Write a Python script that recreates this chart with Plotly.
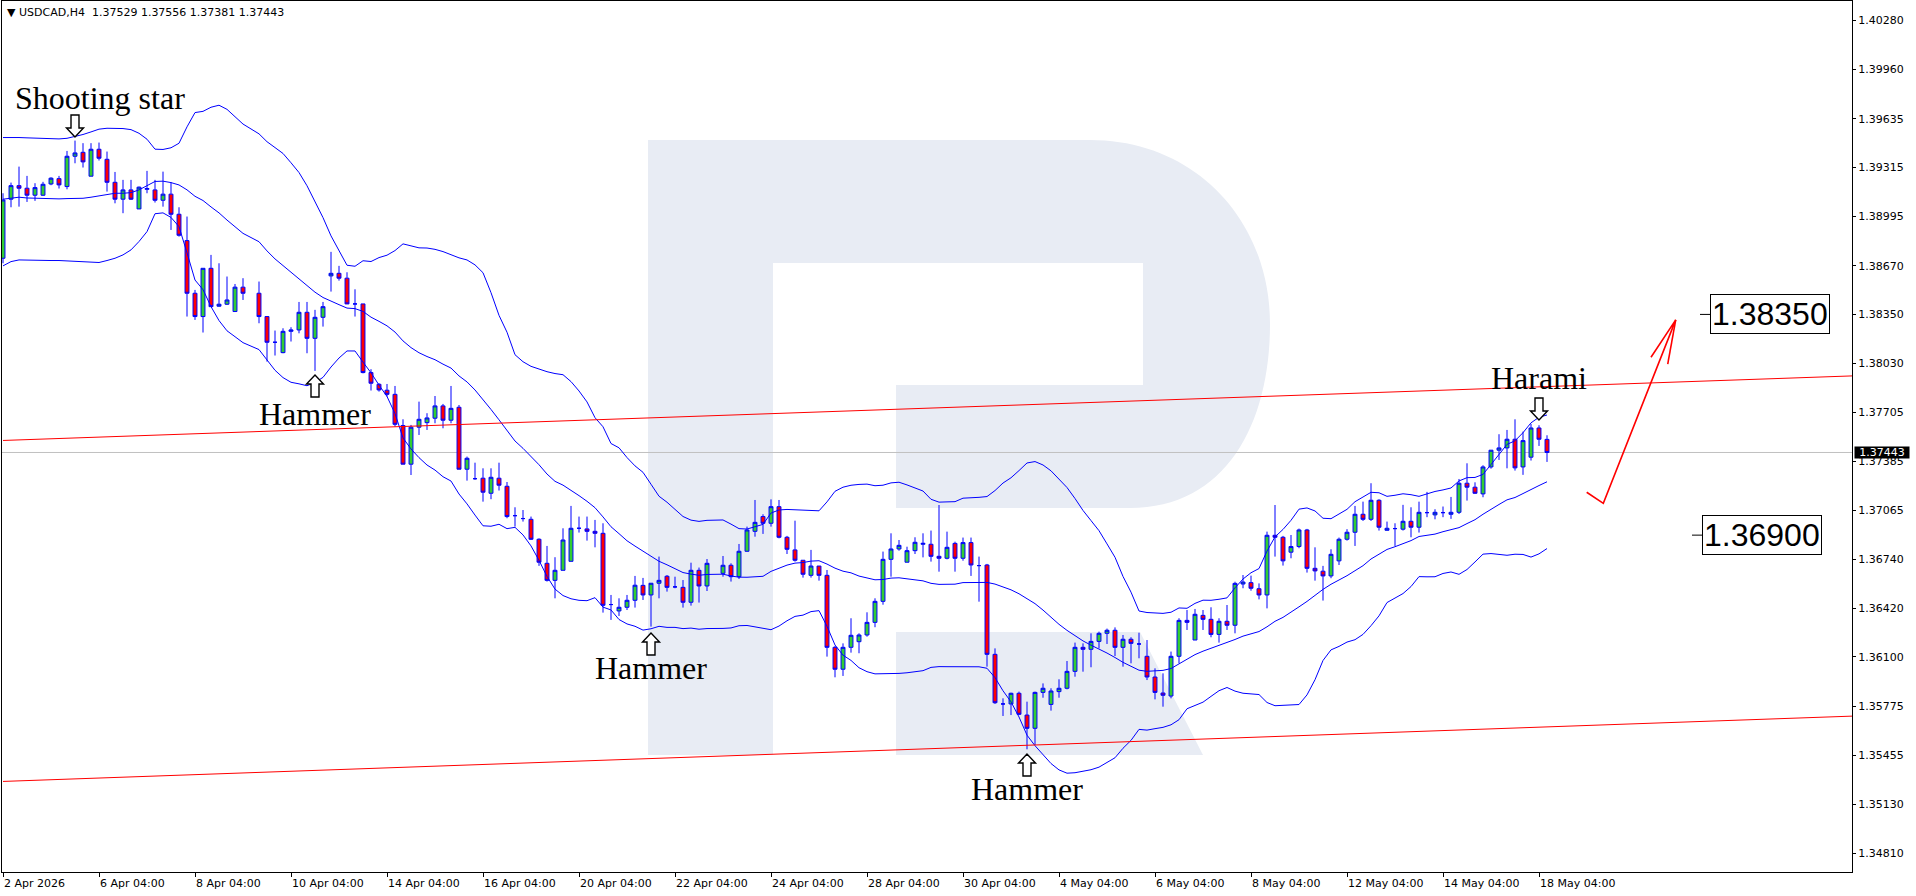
import plotly.graph_objects as go
import pandas as pd
import numpy as np

# ---------------- data ----------------
opens = [
 1.38719, 1.39107, 1.39196, 1.39179, 1.39133, 1.39133, 1.39207, 1.39242, 1.39190, 1.39389,
 1.39415, 1.39258, 1.39435, 1.39369, 1.39218, 1.39107, 1.39168, 1.39043, 1.39172, 1.39168,
 1.39100, 1.39140, 1.39008, 1.38835, 1.38489, 1.38336, 1.38653, 1.38404, 1.38417, 1.38369,
 1.38529, None,    1.38489, 1.38336, 1.38167, 1.38099, 1.38239, 1.38248, 1.38364, 1.38193,
 1.38331, 1.38603, 1.38620, 1.38588, 1.38419, 1.38419, 1.37968, 1.37891, 1.37852, 1.37825,
 1.37620, 1.37366, 1.37609, 1.37639, 1.37668, 1.37749, 1.37655, 1.37740, 1.37333, 1.37271,
 1.37274, 1.37175, 1.37274, 1.37221, 1.37028, 1.37009, 1.37004, 1.36873, 1.36715, 1.36603,
 1.36669, 1.36728, 1.36945, 1.36941, 1.36925, 1.36912, 1.36444, 1.36402, 1.36426, 1.36472,
 1.36570, 1.36507, 1.36584, 1.36630, 1.36560, 1.36557, 1.36459, 1.36669, 1.36566, None,
 1.36649, 1.36702, 1.36627, 1.36794, 1.36925, 1.37022, 1.36978, 1.37087, 1.36886, 1.36803,
 1.36735, 1.36636, 1.36697, 1.36636, 1.36163, 1.36019, 1.36163, 1.36200, 1.36244, 1.36327,
 1.36465, 1.36741, 1.36809, 1.36722, 1.36798, 1.36840, 1.36840, 1.36761, 1.36748, 1.36846,
 1.36748, 1.36851, 1.36700, 1.36704, 1.36117, 1.35791, 1.35791, 1.35861, 1.35718, 1.35631,
 1.35867, 1.35788, 1.35872, 1.35894, 1.36005, 1.36163, 1.36150, 1.36202, 1.36255, 1.36275,
 1.36163, 1.36216, 1.36185, 1.36104, 1.35968, 1.35863, 1.35843, 1.36104, 1.36340, 1.36211,
 1.36373, 1.36347, 1.36248, 1.36334, 1.36308, 1.36579, 1.36588, 1.36548, 1.36507, 1.36899,
 1.36886, 1.36788, 1.36825, 1.36934, 1.36682, 1.36663, 1.36632, 1.36731, 1.36873, 1.36919,
 1.37037, 1.37004, 1.37129, 1.36932, 1.36943, 1.36939, 1.36991, 1.36952, 1.37048, 1.37033,
 1.37048, 1.37037, 1.37050, 1.37241, 1.37215, 1.37171, 1.37348, 1.37458, 1.37473, 1.37530,
 1.37348, 1.37412, 1.37604, 1.37529,
]
highs = [
 1.39146, 1.39216, 1.39321, 1.39260, 1.39212, 1.39221, 1.39251, 1.39260, 1.39424, 1.39492,
 1.39475, 1.39475, 1.39479, 1.39420, 1.39286, 1.39234, 1.39234, 1.39190, 1.39293, 1.39234,
 1.39288, 1.39218, 1.39054, 1.38993, 1.38511, 1.38653, 1.38741, 1.38686, 1.38599, 1.38550,
 1.38588, None,    1.38566, 1.38336, 1.38244, 1.38259, 1.38266, 1.38432, 1.38432, 1.38380,
 1.38432, 1.38761, 1.38669, 1.38627, 1.38515, 1.38419, 1.37990, 1.37898, 1.37893, 1.37880,
 1.37661, 1.37624, 1.37777, 1.37701, 1.37814, 1.37762, 1.37880, 1.37755, 1.37416, 1.37376,
 1.37339, 1.37339, 1.37376, 1.37249, 1.37083, 1.37065, 1.37022, 1.36879, 1.36829, 1.36755,
 1.36945, 1.37092, 1.37022, 1.37022, 1.37000, 1.36978, 1.36507, 1.36485, 1.36507, 1.36632,
 1.36619, 1.36584, 1.36759, 1.36638, 1.36627, 1.36605, 1.36719, 1.36687, 1.36743, None,
 1.36763, 1.36715, 1.36842, 1.36956, 1.37131, 1.37037, 1.37135, 1.37131, 1.36895, 1.36995,
 1.36735, 1.36803, 1.36697, 1.36671, 1.36172, 1.36189, 1.36354, 1.36255, 1.36393, 1.36485,
 1.36792, 1.36912, 1.36868, 1.36824, 1.36886, 1.36912, 1.36930, 1.37098, 1.36923, 1.36857,
 1.36884, 1.36884, 1.36759, 1.36711, 1.36156, 1.35828, 1.35865, 1.35872, 1.35806, 1.35872,
 1.35926, 1.35894, 1.35953, 1.36073, 1.36194, 1.36189, 1.36255, 1.36266, 1.36286, 1.36294,
 1.36244, 1.36229, 1.36259, 1.36211, 1.36025, 1.35992, 1.36135, 1.36354, 1.36408, 1.36415,
 1.36408, 1.36426, 1.36354, 1.36441, 1.36594, 1.36638, 1.36634, 1.36583, 1.36923, 1.37098,
 1.36895, 1.36901, 1.36943, 1.36941, 1.36820, 1.36698, 1.36807, 1.36884, 1.36939, 1.37092,
 1.37120, 1.37241, 1.37136, 1.36989, 1.36978, 1.37099, 1.37083, 1.37120, 1.37184, 1.37070,
 1.37088, 1.37151, 1.37269, 1.37372, 1.37247, 1.37359, 1.37458, 1.37563, 1.37591, 1.37661,
 1.37580, 1.37631, 1.37622, 1.37556,
]
lows = [
 1.38686, 1.39054, 1.39058, 1.39089, 1.39096, 1.39129, 1.39199, 1.39177, 1.39172, 1.39343,
 1.39315, 1.39258, 1.39361, 1.39157, 1.39080, 1.39015, 1.39102, 1.39043, 1.39146, 1.39085,
 1.39058, 1.38905, 1.38861, 1.38336, 1.38314, 1.38231, 1.38401, 1.38401, 1.38412, 1.38369,
 1.38445, None,    1.38292, 1.38040, 1.38080, 1.38095, 1.38172, 1.38226, 1.38095, 1.37979,
 1.38270, 1.38500, 1.38572, 1.38419, 1.38336, 1.37963, 1.37850, 1.37843, 1.37810, 1.37613,
 1.37366, 1.37295, 1.37558, 1.37591, 1.37635, 1.37602, 1.37635, 1.37333, 1.37258, 1.37263,
 1.37120, 1.37136, 1.37193, 1.37011, 1.36956, 1.36989, 1.36868, 1.36698, 1.36595, 1.36485,
 1.36669, 1.36728, 1.36917, 1.36864, 1.36820, 1.36391, 1.36343, 1.36369, 1.36408, 1.36424,
 1.36474, 1.36299, 1.36485, 1.36529, 1.36551, 1.36424, 1.36437, 1.36457, 1.36533, None,
 1.36627, 1.36595, 1.36612, 1.36792, 1.36890, 1.36908, 1.36956, 1.36879, 1.36776, 1.36726,
 1.36621, 1.36621, 1.36601, 1.36102, 1.35966, 1.35975, 1.36128, 1.36124, 1.36233, 1.36295,
 1.36443, 1.36627, 1.36798, 1.36722, 1.36776, 1.36754, 1.36726, 1.36660, 1.36741, 1.36660,
 1.36732, 1.36632, 1.36463, 1.36036, 1.35791, 1.35712, 1.35718, 1.35718, 1.35493, 1.35521,
 1.35832, 1.35747, 1.35832, 1.35887, 1.35970, 1.36003, 1.36032, 1.36156, 1.36185, 1.36106,
 1.36036, 1.36058, 1.36091, 1.35948, 1.35821, 1.35773, 1.35828, 1.36058, 1.36277, 1.36211,
 1.36277, 1.36229, 1.36194, 1.36277, 1.36255, 1.36551, 1.36535, 1.36478, 1.36419, 1.36759,
 1.36700, 1.36748, 1.36814, 1.36654, 1.36601, 1.36470, 1.36617, 1.36704, 1.36864, 1.36829,
 1.36993, 1.36993, 1.36930, 1.36930, 1.36829, 1.36930, 1.36886, 1.36917, 1.37018, 1.37004,
 1.37018, 1.37007, 1.37039, 1.37127, 1.37171, 1.37149, 1.37337, 1.37394, 1.37339, 1.37324,
 1.37296, 1.37390, 1.37486, 1.37381,
]
closes = [
 1.39102, 1.39196, 1.39179, 1.39133, 1.39183, 1.39205, 1.39245, 1.39201, 1.39389, 1.39411,
 1.39352, 1.39435, 1.39376, 1.39218, 1.39107, 1.39168, 1.39107, 1.39186, 1.39177, 1.39100,
 1.39140, 1.39008, 1.38870, 1.38489, 1.38336, 1.38653, 1.38401, 1.38417, 1.38445, 1.38529,
 1.38489, None,    1.38336, 1.38167, 1.38167, 1.38239, 1.38248, 1.38364, 1.38193, 1.38331,
 1.38401, 1.38620, 1.38588, 1.38419, 1.38419, 1.37968, 1.37898, 1.37854, 1.37825, 1.37628,
 1.37366, 1.37609, 1.37661, 1.37670, 1.37749, 1.37655, 1.37733, 1.37333, 1.37405, 1.37271,
 1.37182, 1.37280, 1.37228, 1.37022, 1.37028, 1.37009, 1.36873, 1.36722, 1.36603, 1.36669,
 1.36868, 1.36945, 1.36945, 1.36925, 1.36912, 1.36439, 1.36444, 1.36426, 1.36472, 1.36571,
 1.36507, 1.36584, 1.36603, 1.36557, 1.36560, 1.36459, 1.36669, 1.36566, 1.36715, None,
 1.36702, 1.36627, 1.36794, 1.36934, 1.36984, 1.36978, 1.37087, 1.36886, 1.36807, 1.36735,
 1.36643, 1.36697, 1.36636, 1.36163, 1.36019, 1.36163, 1.36242, 1.36244, 1.36327, 1.36465,
 1.36741, 1.36809, 1.36833, 1.36798, 1.36853, 1.36846, 1.36761, 1.36748, 1.36820, 1.36748,
 1.36851, 1.36704, 1.36700, 1.36117, 1.35799, 1.35791, 1.35861, 1.35723, 1.35631, 1.35867,
 1.35894, 1.35876, 1.35894, 1.36005, 1.36163, 1.36150, 1.36202, 1.36255, 1.36275, 1.36163,
 1.36216, 1.36189, 1.36185, 1.35968, 1.35867, 1.35848, 1.36104, 1.36340, 1.36327, 1.36380,
 1.36347, 1.36248, 1.36334, 1.36308, 1.36583, 1.36592, 1.36551, 1.36507, 1.36899, 1.36886,
 1.36731, 1.36825, 1.36934, 1.36682, 1.36665, 1.36632, 1.36774, 1.36873, 1.36919, 1.37037,
 1.37004, 1.37129, 1.36952, 1.36945, 1.36943, 1.36991, 1.36952, 1.37050, 1.37048, 1.37050,
 1.37048, 1.37050, 1.37241, 1.37215, 1.37175, 1.37348, 1.37458, 1.37473, 1.37530, 1.37342,
 1.37521, 1.37604, 1.37530, 1.37443,
]

# Bollinger band values of the first bars (their 20-bar history lies before the chart)
bb_head_upper = [1.39512, 1.39514, 1.39512, 1.39510, 1.39507, 1.39505, 1.39503, 1.39503, 1.39507, 1.39518,
                 1.39532, 1.39549, 1.39567, 1.39573, 1.39573, 1.39571, 1.39564, 1.39540, 1.39501]
bb_head_middle = [1.39107, 1.39115, 1.39120, 1.39115, 1.39113, 1.39111, 1.39111, 1.39109, 1.39111, 1.39111,
                  1.39113, 1.39120, 1.39129, 1.39140, 1.39146, 1.39146, 1.39150, 1.39168, 1.39194]
bb_head_lower = [1.38669, 1.38697, 1.38708, 1.38706, 1.38704, 1.38704, 1.38704, 1.38704, 1.38702, 1.38699,
                 1.38697, 1.38695, 1.38691, 1.38704, 1.38719, 1.38741, 1.38774, 1.38829, 1.38894]
bb_period = 20
bb_dev = 2

x_tick_bars = [0, 12, 24, 36, 48, 60, 72, 84, 96, 108, 120, 132, 144, 156, 168, 180, 192]
x_tick_labels = ["2 Apr 2026", "6 Apr 04:00", "8 Apr 04:00", "10 Apr 04:00", "14 Apr 04:00",
                 "16 Apr 04:00", "20 Apr 04:00", "22 Apr 04:00", "24 Apr 04:00", "28 Apr 04:00",
                 "30 Apr 04:00", "4 May 04:00", "6 May 04:00", "8 May 04:00", "12 May 04:00",
                 "14 May 04:00", "18 May 04:00"]
y_tick_values = [1.40280, 1.39960, 1.39635, 1.39315, 1.38995, 1.38670, 1.38350, 1.38030, 1.37705,
                 1.37385, 1.37065, 1.36740, 1.36420, 1.36100, 1.35775, 1.35455, 1.35130, 1.34810]

# trend lines (bar index, price) and forecast arrow
upper_channel_bars = [0, 231.125]
upper_channel_prices = [1.37522, 1.37946]
lower_channel_bars = [0, 231.125]
lower_channel_prices = [1.35282, 1.35711]
forecast_bars = [197.96, 200.04, 209.09, 206.0, None, 209.09, 208.09]
forecast_prices = [1.37182, 1.37109, 1.38314, 1.38069, None, 1.38314, 1.38023]

current_price = 1.37443
target_up = 1.38350
target_down = 1.36900
header = "▼ USDCAD,H4\u00a0\u00a01.37529 1.37556 1.37381 1.37443"

# ---------------- derived indicator ----------------
n = len(closes)
bars = list(range(n))
cs = pd.Series([np.nan if c is None else c for c in closes], dtype=float)
valid = cs.dropna()
mid = valid.rolling(bb_period).mean()
sd = valid.rolling(bb_period).std(ddof=0)
upper = (mid + bb_dev * sd).reindex(range(n))
middle = mid.reindex(range(n))
lower = (mid - bb_dev * sd).reindex(range(n))
for k in range(len(bb_head_upper)):
    upper[k] = bb_head_upper[k]
    middle[k] = bb_head_middle[k]
    lower[k] = bb_head_lower[k]

# ---------------- geometry helpers ----------------
W, H = 1916, 896
L, R, T, B = 2, 1852, 1, 872
X_RANGE = [-0.125, 231.125]
Y_RANGE = [1.34687, 1.40409]


def px(x):
    return (x - L) / (R - L)


def py(y):
    return (B - y) / (B - T)


def path_of(points, close=True):
    s = "M " + " L ".join(f"{px(x):.5f},{py(y):.5f}" for x, y in points)
    return s + (" Z" if close else "")


def hollow_arrow(cx, tip, down):
    s = 1 if down else -1
    pts = [(cx - 4, tip - s * 22), (cx + 4, tip - s * 22), (cx + 4, tip - s * 9),
           (cx + 8.5, tip - s * 9), (cx, tip), (cx - 8.5, tip - s * 9), (cx - 4, tip - s * 9)]
    return path_of(pts)


fig = go.Figure()

fig.add_trace(go.Candlestick(
    x=bars, open=opens, high=highs, low=lows, close=closes,
    increasing=dict(line=dict(color="#0000ff", width=1), fillcolor="#32cd32"),
    decreasing=dict(line=dict(color="#0000ff", width=1), fillcolor="#ff0000"),
    whiskerwidth=0, hoverinfo="skip", showlegend=False,
))

for band in (upper, middle, lower):
    fig.add_trace(go.Scatter(x=bars, y=band.tolist(), mode="lines", connectgaps=True,
                             line=dict(color="#0000ff", width=1), hoverinfo="skip", showlegend=False))

for bx, by in ((upper_channel_bars, upper_channel_prices), (lower_channel_bars, lower_channel_prices)):
    fig.add_trace(go.Scatter(x=bx, y=by, mode="lines", line=dict(color="#ff0000", width=1),
                             hoverinfo="skip", showlegend=False, cliponaxis=True))

fig.add_trace(go.Scatter(x=forecast_bars, y=forecast_prices, mode="lines",
                         line=dict(color="#ff0000", width=1.6), hoverinfo="skip", showlegend=False))

shapes = []
# watermark logo
wm = ("M {a} L {b} C {c1} {c2} {c3} C {c4} {c5} {c6} L {d} L {e} L {f} L {g} L {h} L {i} L {j} L {k} Z"
      .format(
          a=f"{px(648):.5f},{py(140):.5f}", b=f"{px(1090):.5f},{py(140):.5f}",
          c1=f"{px(1195):.5f},{py(140):.5f}", c2=f"{px(1270):.5f},{py(220):.5f}", c3=f"{px(1270):.5f},{py(324):.5f}",
          c4=f"{px(1270):.5f},{py(425):.5f}", c5=f"{px(1225):.5f},{py(508):.5f}", c6=f"{px(1130):.5f},{py(508):.5f}",
          d=f"{px(896):.5f},{py(508):.5f}", e=f"{px(896):.5f},{py(385):.5f}", f=f"{px(1143):.5f},{py(385):.5f}",
          g=f"{px(1143):.5f},{py(263):.5f}", h=f"{px(773):.5f},{py(263):.5f}", i=f"{px(773):.5f},{py(755):.5f}",
          j=f"{px(648):.5f},{py(755):.5f}", k=f"{px(648):.5f},{py(140):.5f}"))
shapes.append(dict(type="path", xref="paper", yref="paper", path=wm, fillcolor="#e8ecf4",
                   line=dict(width=0), layer="below"))
shapes.append(dict(type="path", xref="paper", yref="paper",
                   path=path_of([(896, 632), (1140, 632), (1203, 755), (896, 755)]),
                   fillcolor="#e8ecf4", line=dict(width=0), layer="below"))
# current price line
shapes.append(dict(type="line", xref="paper", yref="y", x0=0, x1=1, y0=current_price, y1=current_price,
                   line=dict(color="#c0c0c0", width=1), layer="below"))
# leaders of the price labels
shapes.append(dict(type="line", xref="paper", yref="y", x0=px(1700), x1=px(1710), y0=target_up, y1=target_up,
                   line=dict(color="black", width=1)))
shapes.append(dict(type="line", xref="paper", yref="y", x0=px(1692), x1=px(1702), y0=target_down, y1=target_down,
                   line=dict(color="black", width=1)))
# pattern arrows
for cx, tip, down in ((75, 137, True), (315, 375, False), (651, 633, False), (1027, 754, False), (1539, 420, True)):
    shapes.append(dict(type="path", xref="paper", yref="paper", path=hollow_arrow(cx, tip, down),
                       fillcolor="white", line=dict(color="black", width=1.4), layer="above"))

annotations = []
for b_, t_ in zip(x_tick_bars, x_tick_labels):
    annotations.append(dict(x=b_, y=0, xref="x", yref="paper", text=t_, showarrow=False,
                            xanchor="left", yanchor="top", yshift=-3, xshift=-1,
                            font=dict(family="DejaVu Sans", size=11, color="black")))

serif = dict(family="Liberation Serif", size=32, color="black")
for txt, cx, cy in (("Shooting star", 100, 98.5), ("Hammer", 315, 414), ("Hammer", 651, 668.5),
                    ("Hammer", 1027, 789), ("Harami", 1539, 378)):
    annotations.append(dict(x=px(cx), y=py(cy), xref="paper", yref="paper", text=txt, showarrow=False,
                            xanchor="center", yanchor="middle", font=serif))

box_font = dict(family="Liberation Sans", size=32, color="black")
annotations.append(dict(x=px(1710), y=target_up, xref="paper", yref="y", text=f"{target_up:.5f}",
                        showarrow=False, xanchor="left", yanchor="middle", font=box_font,
                        bgcolor="white", bordercolor="black", borderwidth=1, borderpad=1))
annotations.append(dict(x=px(1702), y=target_down, xref="paper", yref="y", text=f"{target_down:.5f}",
                        showarrow=False, xanchor="left", yanchor="middle", font=box_font,
                        bgcolor="white", bordercolor="black", borderwidth=1, borderpad=1))
annotations.append(dict(x=px(1854), y=current_price, xref="paper", yref="y", text=f"{current_price:.5f}",
                        showarrow=False, xanchor="left", yanchor="middle", width=54, height=11,
                        font=dict(family="DejaVu Sans", size=11, color="white"),
                        bgcolor="black", borderpad=0))
annotations.append(dict(x=px(5), y=py(12.5), xref="paper", yref="paper", text=header, showarrow=False,
                        xanchor="left", yanchor="middle", font=dict(family="DejaVu Sans", size=11, color="black")))

fig.update_layout(
    width=W, height=H,
    margin=dict(l=L, r=W - R, t=T, b=H - B, pad=0),
    plot_bgcolor="white", paper_bgcolor="white",
    showlegend=False, hovermode=False,
    shapes=shapes, annotations=annotations,
    xaxis=dict(range=X_RANGE, rangeslider=dict(visible=False), showgrid=False, zeroline=False,
               showline=True, mirror=True, linecolor="black", linewidth=1,
               tickmode="array", tickvals=x_tick_bars, ticks="outside", ticklen=4, tickcolor="black",
               showticklabels=False, fixedrange=True),
    yaxis=dict(range=Y_RANGE, side="right", showgrid=False, zeroline=False,
               showline=True, mirror=True, linecolor="black", linewidth=1,
               tickmode="array", tickvals=y_tick_values, ticktext=[f"{v:.5f}" for v in y_tick_values],
               ticks="outside", ticklen=3, tickcolor="black",
               tickfont=dict(family="DejaVu Sans", size=11, color="black"), fixedrange=True),
)

fig.write_html("out.html", config={"displayModeBar": False, "staticPlot": True},
               post_script="document.body.style.margin='0px';document.body.style.overflow='hidden';")
